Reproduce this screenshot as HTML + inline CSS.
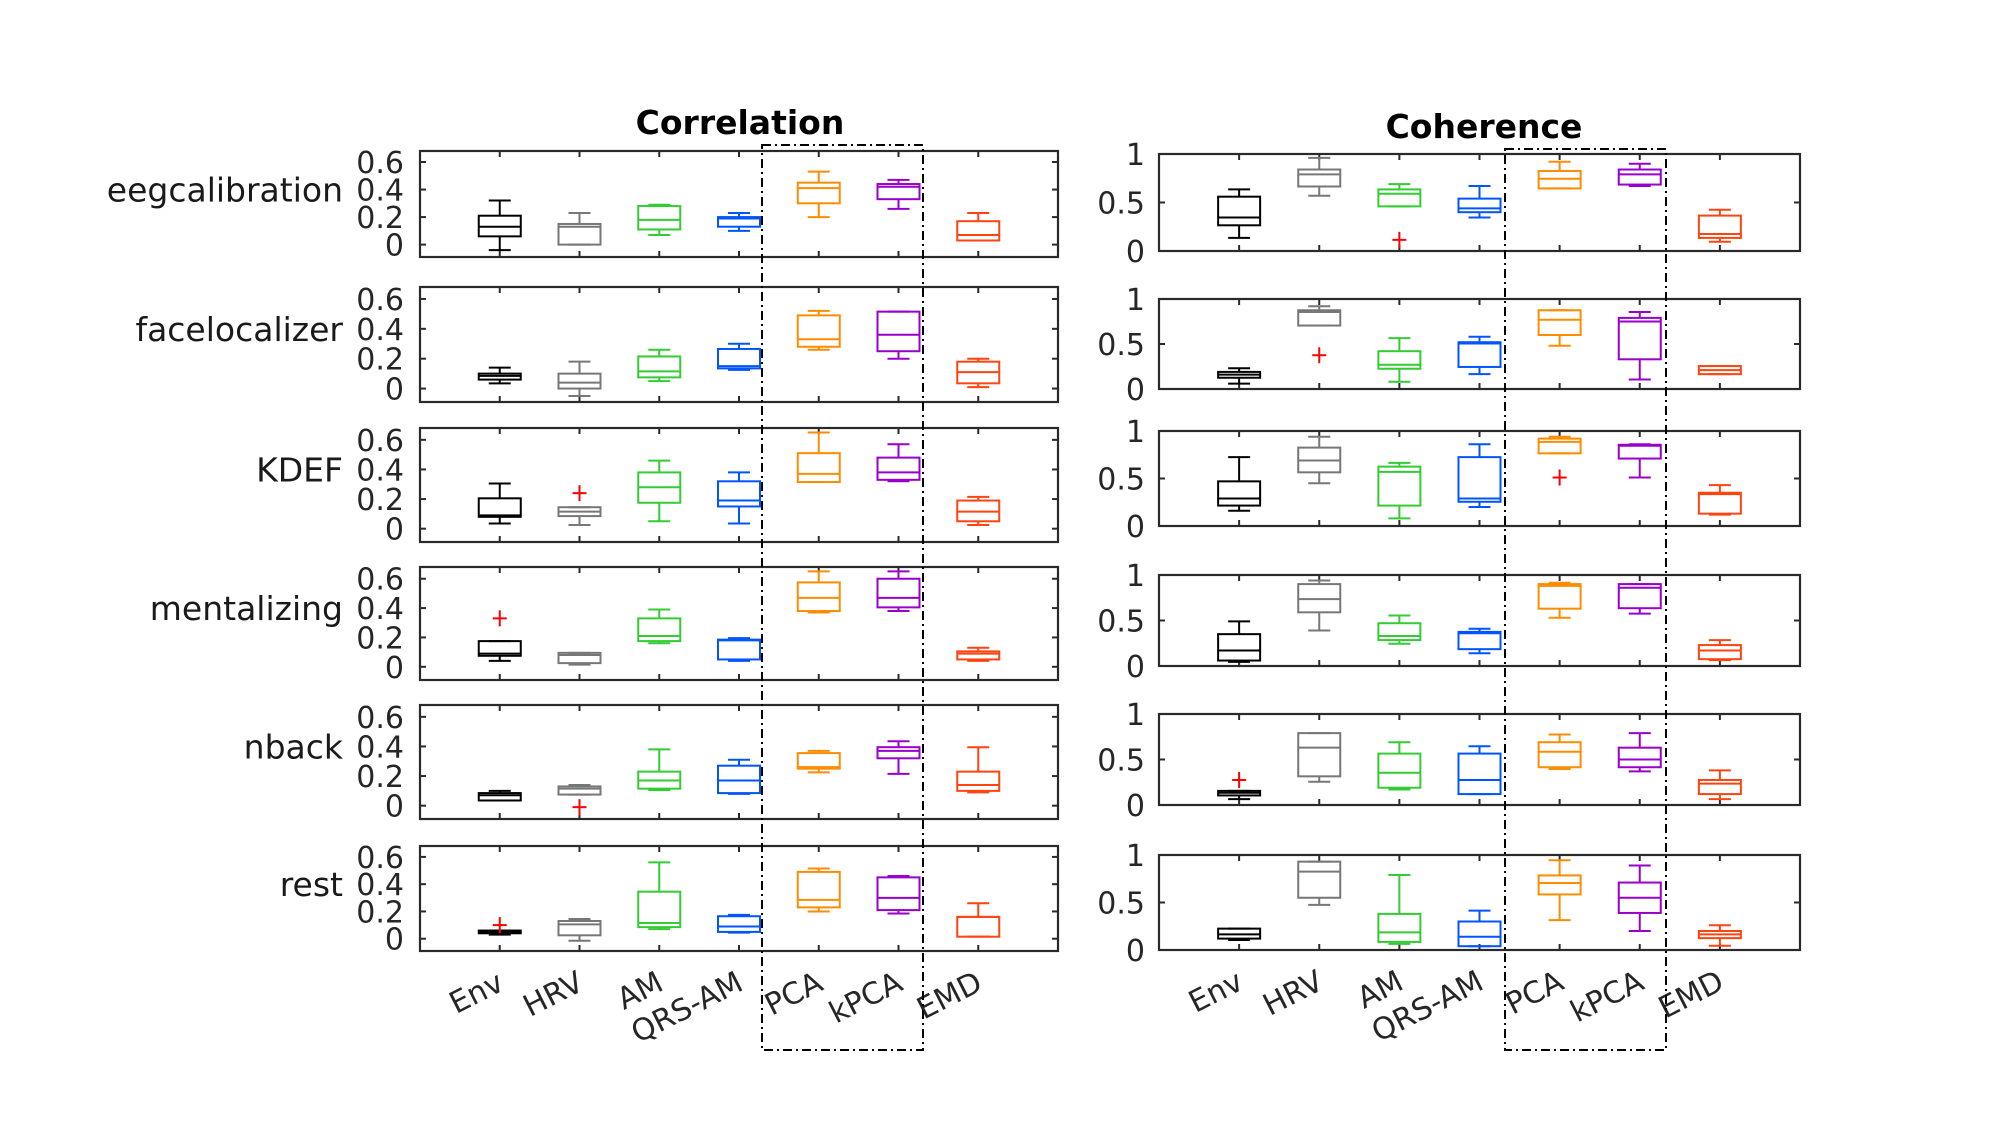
<!DOCTYPE html>
<html><head><meta charset="utf-8"><style>
html,body{margin:0;padding:0;background:#fff;}
svg{display:block;font-family:"DejaVu Sans","Liberation Sans",sans-serif;}
</style></head><body>
<svg id="chart" width="2000" height="1125" viewBox="0 0 2000 1125" xmlns="http://www.w3.org/2000/svg"></svg>
<script>
const categories = ["Env","HRV","AM","QRS-AM","PCA","kPCA","EMD"];
const rowNames = ["eegcalibration","facelocalizer","KDEF","mentalizing","nback","rest"];
const colors = ["#000000","#777777","#33cc33","#0055ff","#ff8c00","#9900cc","#ff4411"];
const corrTicks = [0,0.2,0.4,0.6];
const cohTicks = [0,0.5,1];

// Correlation: [low, q1, median, q3, high] per row per category
const corrLow = [
 [-0.04,0.0,0.07,0.10,0.20,0.26,0.03],
 [0.035,-0.05,0.05,0.125,0.26,0.20,0.01],
 [0.035,0.025,0.05,0.035,0.315,0.32,0.025],
 [0.04,0.015,0.16,0.04,0.37,0.38,0.04],
 [0.035,0.075,0.105,0.08,0.225,0.215,0.09],
 [0.03,-0.015,0.07,0.045,0.20,0.185,0.015]];
const corrQ1 = [
 [0.06,0.0,0.11,0.13,0.30,0.33,0.03],
 [0.06,0.0,0.075,0.135,0.28,0.25,0.035],
 [0.08,0.085,0.175,0.15,0.315,0.33,0.05],
 [0.075,0.025,0.175,0.05,0.38,0.405,0.05],
 [0.035,0.075,0.115,0.085,0.25,0.32,0.10],
 [0.04,0.025,0.085,0.05,0.23,0.21,0.015]];
const corrMed = [
 [0.13,0.13,0.18,0.19,0.41,0.42,0.07],
 [0.085,0.04,0.115,0.15,0.33,0.36,0.11],
 [0.09,0.115,0.28,0.19,0.37,0.38,0.115],
 [0.09,0.08,0.21,0.18,0.47,0.47,0.09],
 [0.07,0.115,0.17,0.17,0.26,0.37,0.14],
 [0.05,0.105,0.115,0.09,0.285,0.30,0.16]];
const corrQ3 = [
 [0.21,0.15,0.28,0.20,0.45,0.44,0.17],
 [0.10,0.10,0.215,0.265,0.49,0.515,0.18],
 [0.205,0.145,0.38,0.32,0.51,0.48,0.19],
 [0.175,0.095,0.33,0.185,0.575,0.60,0.105],
 [0.085,0.13,0.23,0.27,0.355,0.395,0.23],
 [0.06,0.13,0.345,0.165,0.49,0.45,0.16]];
const corrHigh = [
 [0.32,0.23,0.29,0.23,0.53,0.47,0.23],
 [0.14,0.18,0.26,0.30,0.52,0.515,0.20],
 [0.305,0.145,0.46,0.38,0.65,0.57,0.215],
 [0.175,0.095,0.39,0.195,0.65,0.65,0.13],
 [0.10,0.14,0.38,0.31,0.37,0.435,0.395],
 [0.06,0.145,0.56,0.175,0.515,0.46,0.26]];
// outliers: [row, category, value]
const corrOutliers = [[2,1,0.24],[3,0,0.33],[4,1,-0.01],[5,0,0.10]];

// Coherence
const cohLow = [
 [0.135,0.57,0.46,0.345,0.645,0.67,0.095],
 [0.06,0.705,0.08,0.165,0.48,0.105,0.165],
 [0.16,0.45,0.08,0.20,0.765,0.51,0.12],
 [0.045,0.39,0.245,0.14,0.53,0.575,0.065],
 [0.065,0.255,0.17,0.12,0.395,0.37,0.065],
 [0.105,0.475,0.065,0.04,0.315,0.20,0.045]];
const cohQ1 = [
 [0.265,0.665,0.46,0.40,0.645,0.685,0.135],
 [0.125,0.705,0.225,0.245,0.60,0.33,0.165],
 [0.215,0.565,0.215,0.255,0.765,0.71,0.13],
 [0.06,0.59,0.285,0.185,0.63,0.635,0.075],
 [0.105,0.315,0.19,0.12,0.415,0.415,0.12],
 [0.12,0.55,0.085,0.04,0.585,0.39,0.125]];
const cohMed = [
 [0.345,0.79,0.59,0.44,0.745,0.79,0.175],
 [0.16,0.855,0.27,0.505,0.77,0.75,0.21],
 [0.29,0.69,0.57,0.29,0.885,0.845,0.335],
 [0.17,0.735,0.33,0.36,0.88,0.86,0.17],
 [0.135,0.63,0.355,0.275,0.585,0.50,0.235],
 [0.165,0.825,0.185,0.14,0.705,0.55,0.165]];
const cohQ3 = [
 [0.56,0.84,0.635,0.54,0.825,0.84,0.365],
 [0.19,0.875,0.42,0.52,0.875,0.79,0.255],
 [0.47,0.825,0.625,0.725,0.92,0.855,0.35],
 [0.35,0.90,0.47,0.375,0.90,0.90,0.23],
 [0.155,0.79,0.565,0.565,0.69,0.63,0.275],
 [0.225,0.93,0.38,0.30,0.785,0.71,0.20]];
const cohHigh = [
 [0.635,0.96,0.69,0.67,0.92,0.90,0.425],
 [0.23,0.92,0.565,0.58,0.875,0.855,0.255],
 [0.725,0.94,0.665,0.86,0.94,0.86,0.43],
 [0.49,0.94,0.555,0.41,0.915,0.90,0.285],
 [0.155,0.79,0.69,0.645,0.775,0.79,0.38],
 [0.225,0.93,0.79,0.415,0.945,0.89,0.26]];
const cohOutliers = [[0,2,0.115],[1,1,0.375],[2,4,0.51],[4,0,0.275]];

const NS = "http://www.w3.org/2000/svg";
const svg = document.getElementById("chart");
function mk(tag, attrs, parent){
  const e = document.createElementNS(NS, tag);
  for (const k in attrs) e.setAttribute(k, attrs[k]);
  (parent || svg).appendChild(e);
  return e;
}

const leftPanel = {x0:420, x1:1058, ymin:-0.09, ymax:0.68, rows:[[151,257],[287,402],[428,542],[567,680],[705,819],[846,951]], tickX:404};
const rightPanel = {x0:1159, x1:1800, ymin:0, ymax:1, rows:[[154,251],[299,389],[431,526],[575,666],[714,805],[855,950]], tickX:1145};

function drawSet(P, low, q1, med, q3, high, outs, ticks, fmt, prefix, withRowNames){
  const xScale = i => P.x0 + (i + 1) * (P.x1 - P.x0) / (categories.length + 1);
  P.rows.forEach((r, ri) => {
    const [top, bot] = r;
    const yS = v => bot - (v - P.ymin) / (P.ymax - P.ymin) * (bot - top);
    const g = mk("g", {});
    
    
    const frame = mk("rect", {x:P.x0, y:top, width:P.x1-P.x0, height:bot-top, fill:"none", stroke:"#2a2a2a", "stroke-width":2.2}, g);
    
    
    ticks.forEach(t => {
      const y = yS(t);
      mk("line", {x1:P.x0, x2:P.x0+6, y1:y, y2:y, stroke:"#2a2a2a", "stroke-width":2}, g);
      mk("line", {x1:P.x1-6, x2:P.x1, y1:y, y2:y, stroke:"#2a2a2a", "stroke-width":2}, g);
      const tl = mk("text", {x:P.tickX, y:y+11, "text-anchor":"end", "font-size":30, fill:"#262626"}, g);
      tl.textContent = fmt(t);
      
      
    });
    categories.forEach((c, ci) => {
      const x = xScale(ci);
      mk("line", {x1:x, x2:x, y1:top, y2:top+6, stroke:"#2a2a2a", "stroke-width":2}, g);
      mk("line", {x1:x, x2:x, y1:bot-6, y2:bot, stroke:"#2a2a2a", "stroke-width":2}, g);
    });
    if (withRowNames) {
      const rl = mk("text", {x:343, y:yS(0.4)+12, "text-anchor":"end", "font-size":33, fill:"#1a1a1a"});
      rl.textContent = rowNames[ri];
      
      
    }
    categories.forEach((c, ci) => {
      const x = xScale(ci), col = colors[ci];
      const bw = 21, cw = 11;
      const bg = mk("g", {stroke:col, "stroke-width":2, fill:"none"}, g);
      
      
      const yl = yS(low[ri][ci]), y1 = yS(q1[ri][ci]), ym = yS(med[ri][ci]), y3 = yS(q3[ri][ci]), yh = yS(high[ri][ci]);
      mk("line", {x1:x, x2:x, y1:yh, y2:y3}, bg);
      mk("line", {x1:x, x2:x, y1:y1, y2:yl}, bg);
      mk("line", {x1:x-cw, x2:x+cw, y1:yh, y2:yh}, bg);
      mk("line", {x1:x-cw, x2:x+cw, y1:yl, y2:yl}, bg);
      mk("rect", {x:x-bw, y:y3, width:2*bw, height:Math.max(1,y1-y3)}, bg);
      mk("line", {x1:x-bw, x2:x+bw, y1:ym, y2:ym}, bg);
    });
    outs.filter(o => o[0] === ri).forEach(o => {
      const x = xScale(o[1]), y = yS(o[2]);
      const og = mk("g", {stroke:"#ff0000", "stroke-width":2}, g);
      
      
      mk("line", {x1:x-7, x2:x+7, y1:y, y2:y}, og);
      mk("line", {x1:x, x2:x, y1:y-8, y2:y+8}, og);
    });
  });
  categories.forEach((c, ci) => {
    const x = xScale(ci) + 6, y = P.rows[5][1] + 38;
    const t = mk("text", {x:x, y:y, "text-anchor":"end", "font-size":30, fill:"#262626", transform:"rotate(-27 "+x+" "+y+")"});
    t.textContent = c;
    
    
  });
}

drawSet(leftPanel, corrLow, corrQ1, corrMed, corrQ3, corrHigh, corrOutliers, corrTicks, t => t===0?"0":t.toFixed(1), "correlation", true);
drawSet(rightPanel, cohLow, cohQ1, cohMed, cohQ3, cohHigh, cohOutliers, cohTicks, t => String(t), "coherence", false);

const t1 = mk("text", {x:740, y:134, "text-anchor":"middle", "font-size":33, "font-weight":"bold", fill:"#000"});
t1.textContent = "Correlation";


const t2 = mk("text", {x:1484, y:138, "text-anchor":"middle", "font-size":33, "font-weight":"bold", fill:"#000"});
t2.textContent = "Coherence";



const h1 = mk("rect", {x:762, y:145, width:161, height:905, fill:"none", stroke:"#000", "stroke-width":2, "stroke-dasharray":"9,4,2,4"});


const h2 = mk("rect", {x:1505, y:149, width:161, height:901, fill:"none", stroke:"#000", "stroke-width":2, "stroke-dasharray":"9,4,2,4"});


</script>
</body></html>
